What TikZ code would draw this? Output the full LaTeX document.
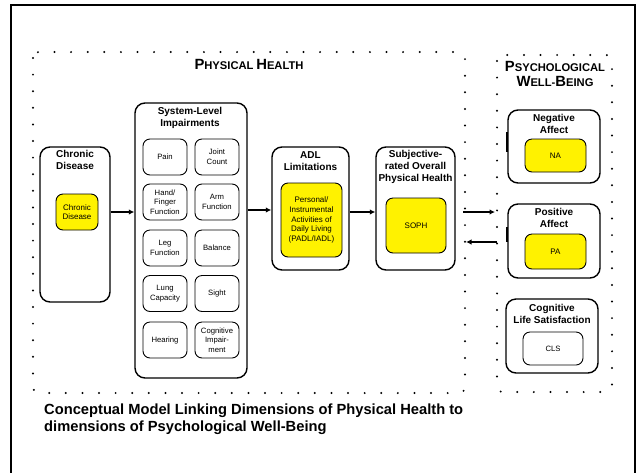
\documentclass[tikz,border=0pt]{standalone}
\usepackage{fontspec}
\setmainfont{Liberation Sans}
\usetikzlibrary{arrows.meta}
\newcommand\capsc[2]{{\fontsize{14.8}{16}\selectfont #1}{\fontsize{11.2}{16}\selectfont #2}}
\begin{document}
\begin{tikzpicture}[x=1pt,y=-1pt,
  outer/.style={draw=black, line width=1.4pt, rounded corners=10pt, fill=white, inner sep=0pt},
  ybox/.style={draw=black, line width=0.9pt, rounded corners=7pt, fill=yellow, font=\fontsize{8}{9.6}\selectfont, align=center, inner sep=0pt},
  sbox/.style={draw=black, line width=0.9pt, rounded corners=7pt, fill=white, font=\fontsize{7.7}{9.6}\selectfont, align=center, inner sep=0pt},
  ttl/.style={font=\fontsize{10}{12}\selectfont\bfseries, align=center, inner sep=0pt},
  dots/.style={line width=2.2pt, line cap=round, dash pattern=on 0pt off 16.6pt, rounded corners=6pt},
  arr/.style={line width=2.6pt, -{Latex[length=5.5pt,width=5.5pt]}},
]
\useasboundingbox (0,0) rectangle (639,472);
\fill[white] (0,0) rectangle (639,472);
\draw[line width=2pt] (11,480) -- (11,5) -- (635,5) -- (635,480);

% dotted groups
\draw[dots] (33,52) rectangle (465,393);
\draw[dots] (497,55) rectangle (612,392);
\node[font=\bfseries, inner sep=0pt] (phT) at (249,64) {\capsc{P}{HYSICAL} \capsc{H}{EALTH}};
\node[font=\bfseries, align=center, inner sep=0pt] (psT) at (555,73.5) {\capsc{P}{SYCHOLOGICAL}\\[3pt]\capsc{W}{ELL-}\capsc{B}{EING}};

% chronic disease
\node[outer, minimum width=70, minimum height=155] (chronic) at (75,224.5) {};
\node[ttl] (chronicT) at (75,159.5) {Chronic\\Disease};
\node[ybox, minimum width=42, minimum height=36] (chronicY) at (77,212) {Chronic\\Disease};

% system-level impairments
\node[outer, minimum width=112, minimum height=275] (sys) at (191,240.5) {};
\node[ttl] (sysT) at (190,117.5) {System-Level\\Impairments};
\node[sbox, minimum width=44, minimum height=36] (pain) at (165,157) {Pain};
\node[sbox, minimum width=44, minimum height=36] (joint) at (217,157) {Joint\\Count};
\node[sbox, minimum width=44, minimum height=36] (hand) at (165,202) {Hand/\\Finger\\Function};
\node[sbox, minimum width=44, minimum height=36] (arm) at (217,202) {Arm\\Function};
\node[sbox, minimum width=44, minimum height=36] (leg) at (165,248) {Leg\\Function};
\node[sbox, minimum width=44, minimum height=36] (bal) at (217,248) {Balance};
\node[sbox, minimum width=44, minimum height=36] (lung) at (165,293.5) {Lung\\Capacity};
\node[sbox, minimum width=44, minimum height=36] (sight) at (217,293.5) {Sight};
\node[sbox, minimum width=44, minimum height=36] (hear) at (165,340) {Hearing};
\node[sbox, minimum width=44, minimum height=36] (cogi) at (217,340) {Cognitive\\Impair-\\ment};

% ADL
\node[outer, minimum width=77, minimum height=123] (adl) at (310.5,208.5) {};
\node[ttl] (adlT) at (310.5,161) {ADL\\Limitations};
\node[ybox, minimum width=61, minimum height=74] (adlY) at (311.5,220) {Personal/\\Instrumental\\Activities of\\Daily Living\\(PADL/IADL)};

% SOPH
\node[outer, minimum width=79, minimum height=123] (soph) at (415.5,208.5) {};
\node[ttl] (sophT) at (415.5,167) {Subjective-\\rated Overall\\Physical Health};
\node[ybox, minimum width=60, minimum height=55] (sophY) at (416,225.5) {SOPH};

% psychological well-being
\node[outer, minimum width=92, minimum height=73] (na) at (554,146.5) {};
\node[ttl] (naT) at (554,124) {Negative\\Affect};
\node[ybox, minimum width=61, minimum height=33] (naY) at (555.5,155.5) {NA};

\node[outer, minimum width=92, minimum height=74] (pa) at (554,241) {};
\node[ttl] (paT) at (554,218) {Positive\\Affect};
\node[ybox, minimum width=61, minimum height=35] (paY) at (555.5,251.5) {PA};

\node[outer, minimum width=92, minimum height=74] (cls) at (552,336) {};
\node[ttl] (clsT) at (552,313.5) {Cognitive\\Life Satisfaction};
\node[sbox, minimum width=60, minimum height=33] (clsI) at (553,348.5) {CLS};

\draw[line width=2.2pt] (na.west |- 0,132) -- (na.west |- 0,152);
\draw[line width=2.2pt] (pa.west |- 0,227) -- (pa.west |- 0,242);

% connectors
\draw[arr] (chronic.east |- 0,212) -- (sys.west |- 0,212);
\draw[arr] (sys.east |- 0,210) -- (adl.west |- 0,210);
\draw[arr] (adl.east |- 0,212) -- (soph.west |- 0,212);
\coordinate (sOut) at (463,212);
\coordinate (paIn) at (495,212);
\draw[arr] (sOut) -- (paIn);
\coordinate (paOut) at (497,242);
\coordinate (sIn) at (466,242);
\draw[arr] (paOut) -- (sIn);

% caption
\node[anchor=north west, align=left, font=\fontsize{14.7}{17}\selectfont\bfseries, inner sep=0pt] (cap) at (44,403.5) {Conceptual Model Linking Dimensions of Physical Health to\\dimensions of Psychological Well-Being};
\end{tikzpicture}
\end{document}
